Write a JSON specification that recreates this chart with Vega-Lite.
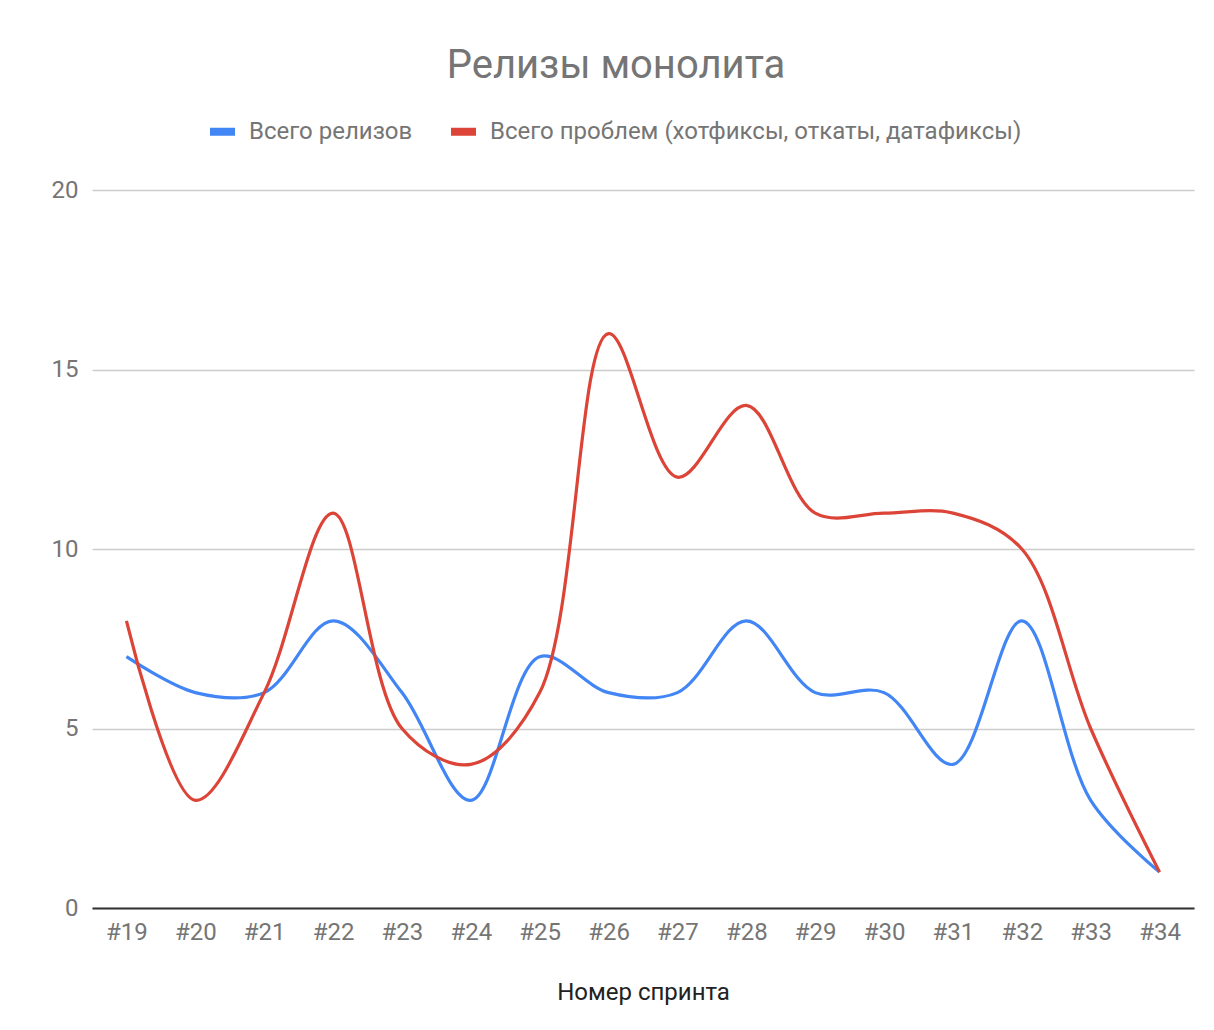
{
  "$schema": "https://vega.github.io/schema/vega-lite/v6.json",
  "autosize": {"type": "none"},
  "width": 1102,
  "height": 718,
  "padding": {"left": 92, "top": 190, "right": 20, "bottom": 122},
  "background": "white",
  "config": {"view": {"stroke": null}},
  "title": {
    "text": "Релизы монолита",
    "font": "Roboto",
    "fontSize": 40,
    "fontWeight": "normal",
    "color": "#757575",
    "anchor": "middle",
    "baseline": "alphabetic",
    "offset": -3,
    "dx": -27
  },
  "data": {
    "values": [
      {"sprint": "#19", "series": "Всего релизов", "value": 7},
      {"sprint": "#20", "series": "Всего релизов", "value": 6},
      {"sprint": "#21", "series": "Всего релизов", "value": 6},
      {"sprint": "#22", "series": "Всего релизов", "value": 8},
      {"sprint": "#23", "series": "Всего релизов", "value": 6},
      {"sprint": "#24", "series": "Всего релизов", "value": 3},
      {"sprint": "#25", "series": "Всего релизов", "value": 7},
      {"sprint": "#26", "series": "Всего релизов", "value": 6},
      {"sprint": "#27", "series": "Всего релизов", "value": 6},
      {"sprint": "#28", "series": "Всего релизов", "value": 8},
      {"sprint": "#29", "series": "Всего релизов", "value": 6},
      {"sprint": "#30", "series": "Всего релизов", "value": 6},
      {"sprint": "#31", "series": "Всего релизов", "value": 4},
      {"sprint": "#32", "series": "Всего релизов", "value": 8},
      {"sprint": "#33", "series": "Всего релизов", "value": 3},
      {"sprint": "#34", "series": "Всего релизов", "value": 1},
      {"sprint": "#19", "series": "Всего проблем (хотфиксы, откаты, датафиксы)", "value": 8},
      {"sprint": "#20", "series": "Всего проблем (хотфиксы, откаты, датафиксы)", "value": 3},
      {"sprint": "#21", "series": "Всего проблем (хотфиксы, откаты, датафиксы)", "value": 6},
      {"sprint": "#22", "series": "Всего проблем (хотфиксы, откаты, датафиксы)", "value": 11},
      {"sprint": "#23", "series": "Всего проблем (хотфиксы, откаты, датафиксы)", "value": 5},
      {"sprint": "#24", "series": "Всего проблем (хотфиксы, откаты, датафиксы)", "value": 4},
      {"sprint": "#25", "series": "Всего проблем (хотфиксы, откаты, датафиксы)", "value": 6},
      {"sprint": "#26", "series": "Всего проблем (хотфиксы, откаты, датафиксы)", "value": 16},
      {"sprint": "#27", "series": "Всего проблем (хотфиксы, откаты, датафиксы)", "value": 12},
      {"sprint": "#28", "series": "Всего проблем (хотфиксы, откаты, датафиксы)", "value": 14},
      {"sprint": "#29", "series": "Всего проблем (хотфиксы, откаты, датафиксы)", "value": 11},
      {"sprint": "#30", "series": "Всего проблем (хотфиксы, откаты, датафиксы)", "value": 11},
      {"sprint": "#31", "series": "Всего проблем (хотфиксы, откаты, датафиксы)", "value": 11},
      {"sprint": "#32", "series": "Всего проблем (хотфиксы, откаты, датафиксы)", "value": 10},
      {"sprint": "#33", "series": "Всего проблем (хотфиксы, откаты, датафиксы)", "value": 5},
      {"sprint": "#34", "series": "Всего проблем (хотфиксы, откаты, датафиксы)", "value": 1}
    ]
  },
  "mark": {"type": "line", "interpolate": "catmull-rom", "strokeWidth": 3.2},
  "encoding": {
    "x": {
      "field": "sprint",
      "type": "ordinal",
      "scale": {"type": "point", "padding": 0.5},
      "axis": {
        "title": "Номер спринта",
        "titleFont": "Roboto",
        "titleFontSize": 24,
        "titleFontWeight": "normal",
        "titleColor": "#222222",
        "titlePadding": 36,
        "labelAngle": 0,
        "labelFont": "Roboto",
        "labelFontSize": 24,
        "labelColor": "#757575",
        "labelPadding": 12,
        "ticks": false,
        "domainColor": "#333333",
        "domainWidth": 2,
        "grid": false
      }
    },
    "y": {
      "field": "value",
      "type": "quantitative",
      "scale": {"domain": [0, 20], "nice": false},
      "axis": {
        "title": null,
        "values": [0, 5, 10, 15, 20],
        "labelFont": "Roboto",
        "labelFontSize": 24,
        "labelColor": "#757575",
        "labelPadding": 14,
        "ticks": false,
        "domain": false,
        "grid": true,
        "gridColor": "#cccccc",
        "gridWidth": 1.5
      }
    },
    "color": {
      "field": "series",
      "type": "nominal",
      "sort": ["Всего релизов", "Всего проблем (хотфиксы, откаты, датафиксы)"],
      "scale": {
        "domain": ["Всего релизов", "Всего проблем (хотфиксы, откаты, датафиксы)"],
        "range": ["#4285F4", "#DB4437"]
      },
      "legend": {
        "title": null,
        "orient": "none",
        "legendX": 114,
        "legendY": -75,
        "direction": "horizontal",
        "symbolType": "stroke",
        "symbolSize": 625,
        "symbolStrokeWidth": 8,
        "labelFont": "Roboto",
        "labelFontSize": 24,
        "labelColor": "#757575",
        "labelOffset": 10,
        "labelLimit": 800,
        "columnPadding": 22
      }
    }
  }
}
